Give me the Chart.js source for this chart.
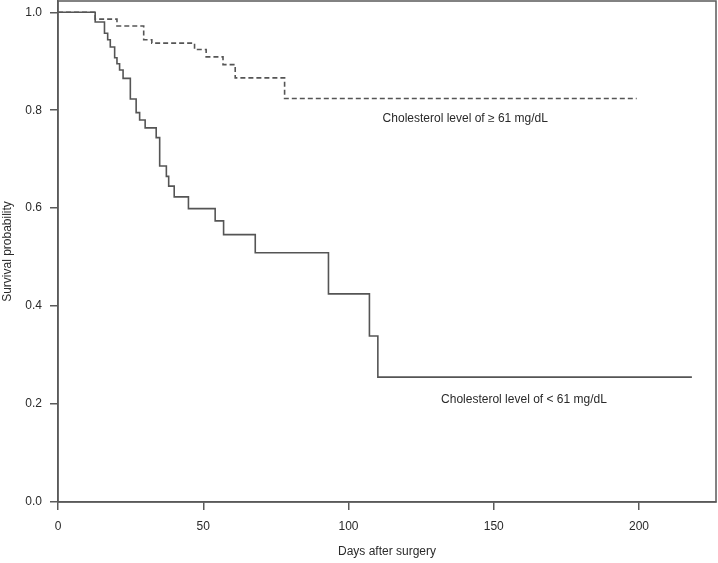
<!DOCTYPE html>
<html>
<head>
<meta charset="utf-8">
<style>
  html, body { margin: 0; padding: 0; background: #fff; }
  canvas { display: block; }
</style>
<script src="https://cdn.jsdelivr.net/npm/chart.js@4/dist/chart.umd.min.js"></script>
</head>
<body>
<canvas id="km" width="718" height="563"></canvas>
<script>
// Kaplan-Meier steps
const lowDays = [0, 12.8, 16.0, 17.1, 18.0, 19.5, 20.3, 21.2, 22.4, 24.9, 26.9, 28.1, 30.0, 33.8, 35.0, 37.3, 38.1, 40.0, 44.9, 54.1, 57.0, 67.9, 93.1, 107.2, 110.1, 218.2];
const lowSurv = [1.0, 0.980, 0.957, 0.944, 0.929, 0.907, 0.895, 0.882, 0.865, 0.823, 0.795, 0.780, 0.764, 0.744, 0.686, 0.665, 0.645, 0.623, 0.599, 0.574, 0.546, 0.509, 0.425, 0.339, 0.255, 0.255];

const highDays = [0, 12.8, 20.3, 29.5, 32.3, 47.0, 51.0, 56.8, 61.0, 78.0, 199.2];
const highSurv = [1.0, 0.986, 0.972, 0.944, 0.937, 0.924, 0.909, 0.893, 0.866, 0.824, 0.824];

const xTicks = [0, 50, 100, 150, 200];
const yTicks = [0, 0.2, 0.4, 0.6, 0.8, 1.0];

const labelHigh = 'Cholesterol level of \u2265 61 mg/dL';
const labelLow = 'Cholesterol level of < 61 mg/dL';
// where the curve labels sit, in data units (days, probability)
const labelHighAt = [140.2, 0.782];
const labelLowAt = [160.4, 0.209];

const ink = '#2a2a2a';
const lineCol = '#555555';
const axisCol = '#5a5a5a';
const font = { family: "'Liberation Sans', Arial, sans-serif", size: 12 };

const toPoints = (xs, ys) => xs.map((x, i) => ({ x, y: ys[i] }));

// frame + text labels (R style box round the plot)
const boxAndText = {
  id: 'boxAndText',
  afterDraw(chart) {
    const { ctx, chartArea: a, scales } = chart;
    ctx.save();
    ctx.strokeStyle = axisCol;
    ctx.lineWidth = 1.5;
    ctx.strokeRect(a.left, a.top, a.right - a.left, a.bottom - a.top);

    ctx.fillStyle = ink;
    ctx.font = `${font.size}px ${font.family}`;
    ctx.textAlign = 'center';
    ctx.textBaseline = 'middle';
    ctx.fillText(labelHigh, scales.x.getPixelForValue(labelHighAt[0]), scales.y.getPixelForValue(labelHighAt[1]));
    ctx.fillText(labelLow, scales.x.getPixelForValue(labelLowAt[0]), scales.y.getPixelForValue(labelLowAt[1]));
    ctx.restore();
  }
};

new Chart(document.getElementById('km'), {
  type: 'line',
  data: {
    datasets: [
      {
        label: labelLow,
        data: toPoints(lowDays, lowSurv),
        borderColor: lineCol,
        borderWidth: 1.6,
        stepped: 'before',
        pointRadius: 0,
        fill: false
      },
      {
        label: labelHigh,
        data: toPoints(highDays, highSurv),
        borderColor: lineCol,
        borderWidth: 1.6,
        borderDash: [5, 3],
        stepped: 'before',
        pointRadius: 0,
        fill: false
      }
    ]
  },
  options: {
    responsive: false,
    animation: false,
    devicePixelRatio: 1,
    layout: { padding: { top: 1, right: 2, left: 0, bottom: 0 } },
    plugins: { legend: { display: false }, tooltip: { enabled: false } },
    scales: {
      x: {
        type: 'linear',
        min: 0,
        max: 226.5,
        afterBuildTicks: s => { s.ticks = xTicks.map(v => ({ value: v })); },
        afterFit: s => { s.height = 61; s.paddingLeft = 0; s.paddingRight = 0; },
        grid: { drawOnChartArea: false, drawTicks: true, tickLength: 8, color: axisCol, lineWidth: 1.5 },
        border: { color: axisCol, width: 1.5 },
        ticks: { color: ink, font, padding: 9, maxRotation: 0, callback: v => String(v) },
        title: { display: true, text: 'Days after surgery', color: ink, font, padding: { top: 4, bottom: 4 } }
      },
      y: {
        type: 'linear',
        min: 0,
        max: 1.023,
        afterBuildTicks: s => { s.ticks = yTicks.map(v => ({ value: v })); },
        afterFit: s => { s.width = 58; s.paddingTop = 0; s.paddingBottom = 0; },
        grid: { drawOnChartArea: false, drawTicks: true, tickLength: 8, color: axisCol, lineWidth: 1.5 },
        border: { color: axisCol, width: 1.5 },
        ticks: { color: ink, font, padding: 8, callback: v => v.toFixed(1) },
        title: { display: true, text: 'Survival probability', color: ink, font, padding: 0 }
      }
    }
  },
  plugins: [boxAndText]
});
</script>
</body>
</html>
